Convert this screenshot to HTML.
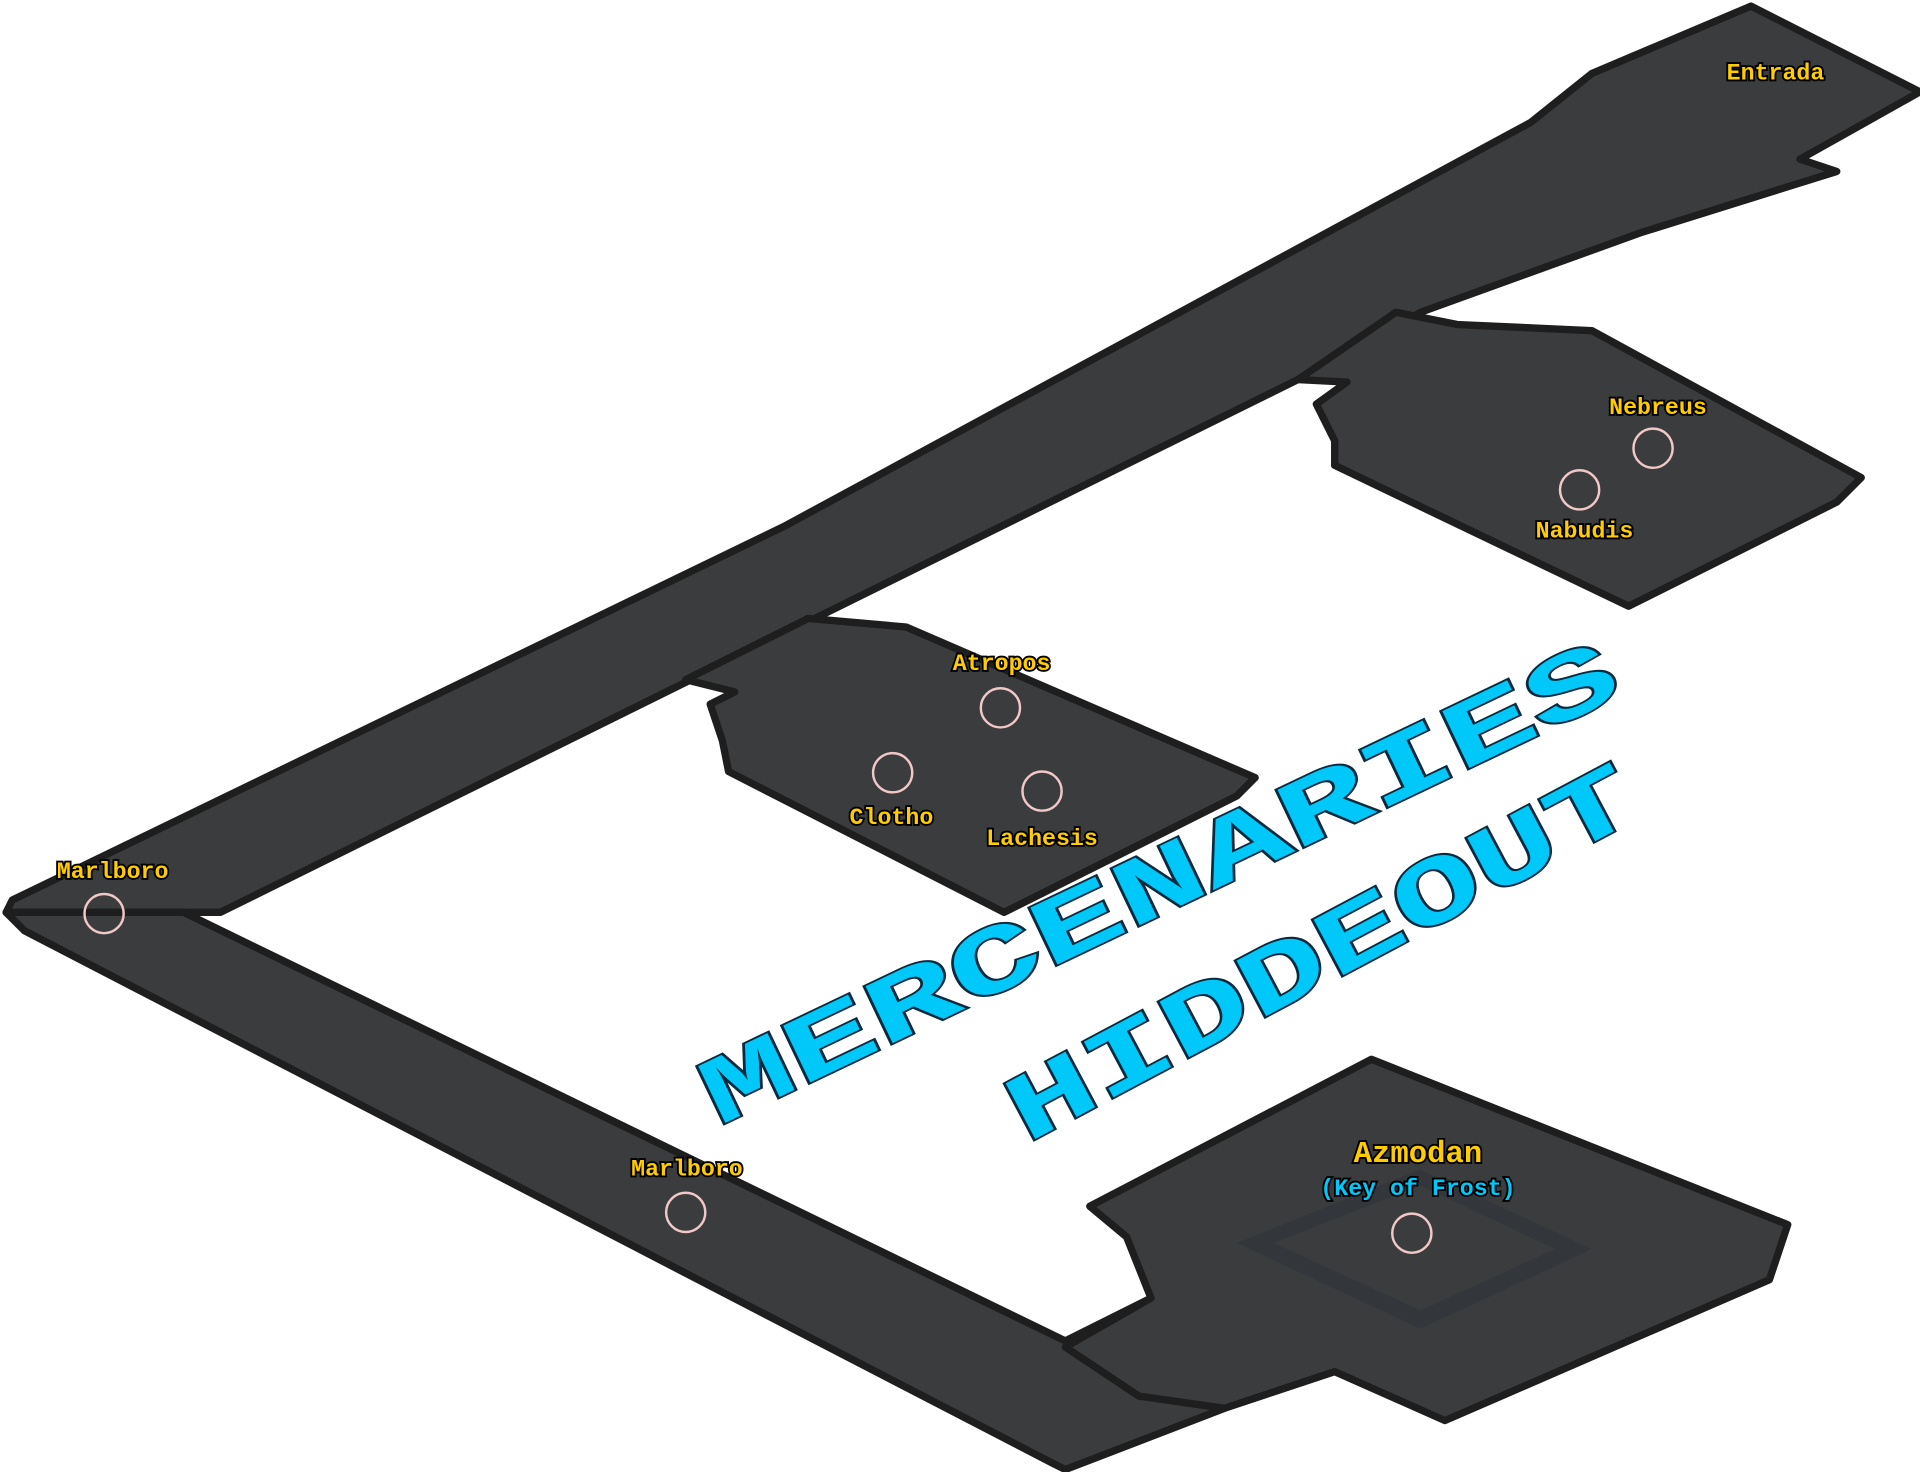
<!DOCTYPE html>
<html><head><meta charset="utf-8"><style>
html,body{margin:0;padding:0;background:#fff;width:1920px;height:1472px;overflow:hidden}
svg{display:block}
.lbl{font-family:"Liberation Mono",monospace;font-weight:bold;fill:#ffcc00;stroke:#000;stroke-width:3;paint-order:stroke;font-size:19px}
.t{font-family:"Liberation Mono",monospace;font-weight:bold;fill:#00c8f8;stroke:#0a2a40;stroke-width:3;paint-order:stroke}
</style></head><body>
<svg width="1920" height="1472" viewBox="0 0 1568 1202" preserveAspectRatio="none">
<g fill="#3b3c3d" stroke="#1e1e1e" stroke-width="6" stroke-linejoin="round">
<polygon points="1430,5 1568,75 1470,130 1500,140 1340,190 1160,255 1070,305 180,745 150,745 5,745 10,735 640,430 1250,100 1300,60"/>
<polygon points="5,745 150,745 870,1095 940,1060 1000,1080 1000,1150 870,1200 860,1195 20,760"/>
<polygon points="1140,255 1190,265 1300,270 1520,390 1500,410 1330,495 1090,380 1090,360 1075,330 1100,312 1060,310"/>
<polygon points="560,555 660,505 740,512 1025,635 1010,650 820,745 595,630 590,605 580,575 600,565"/>
<polygon points="890,985 1120,865 1460,1000 1445,1045 1180,1160 1090,1120 1000,1150 930,1140 870,1100 940,1060 920,1010"/>
</g>
<g fill="#33363a"><polygon points="1010,1015 1160,955 1300,1020 1160,1085"/></g>
<g fill="#3b3c3d"><polygon points="1040,1015 1160,968 1270,1020 1160,1070"/></g>
<g fill="none" stroke="#f0c8c8" stroke-width="2">
<circle cx="85" cy="746" r="16"/><circle cx="560" cy="990" r="16"/>
<circle cx="817" cy="578" r="16"/><circle cx="729" cy="631" r="16"/><circle cx="851" cy="646" r="16"/>
<circle cx="1350" cy="366" r="16"/><circle cx="1290" cy="400" r="16"/><circle cx="1153" cy="1007" r="16"/>
</g>
<text class="lbl" x="1450" y="65" text-anchor="middle">Entrada</text>
<text class="lbl" x="1354" y="338" text-anchor="middle">Nebreus</text>
<text class="lbl" x="1294" y="439" text-anchor="middle">Nabudis</text>
<text class="lbl" x="818" y="547" text-anchor="middle">Atropos</text>
<text class="lbl" x="728" y="673" text-anchor="middle">Clotho</text>
<text class="lbl" x="851" y="690" text-anchor="middle">Lachesis</text>
<text class="lbl" x="92" y="717" text-anchor="middle">Marlboro</text>
<text class="lbl" x="561" y="960" text-anchor="middle">Marlboro</text>
<text class="lbl" x="1158" y="949" text-anchor="middle" style="font-size:25px">Azmodan</text>
<text class="lbl" x="1158" y="976" text-anchor="middle" style="fill:#00c8f8">(Key of Frost)</text>
<text class="t" transform="translate(957,743) rotate(-25.5)" text-anchor="middle" font-size="78" textLength="820" lengthAdjust="spacingAndGlyphs">MERCENARIES</text>
<text class="t" transform="translate(1090,800) rotate(-28)" text-anchor="middle" font-size="78" textLength="570" lengthAdjust="spacingAndGlyphs">HIDDEOUT</text>
</svg>
</body></html>
